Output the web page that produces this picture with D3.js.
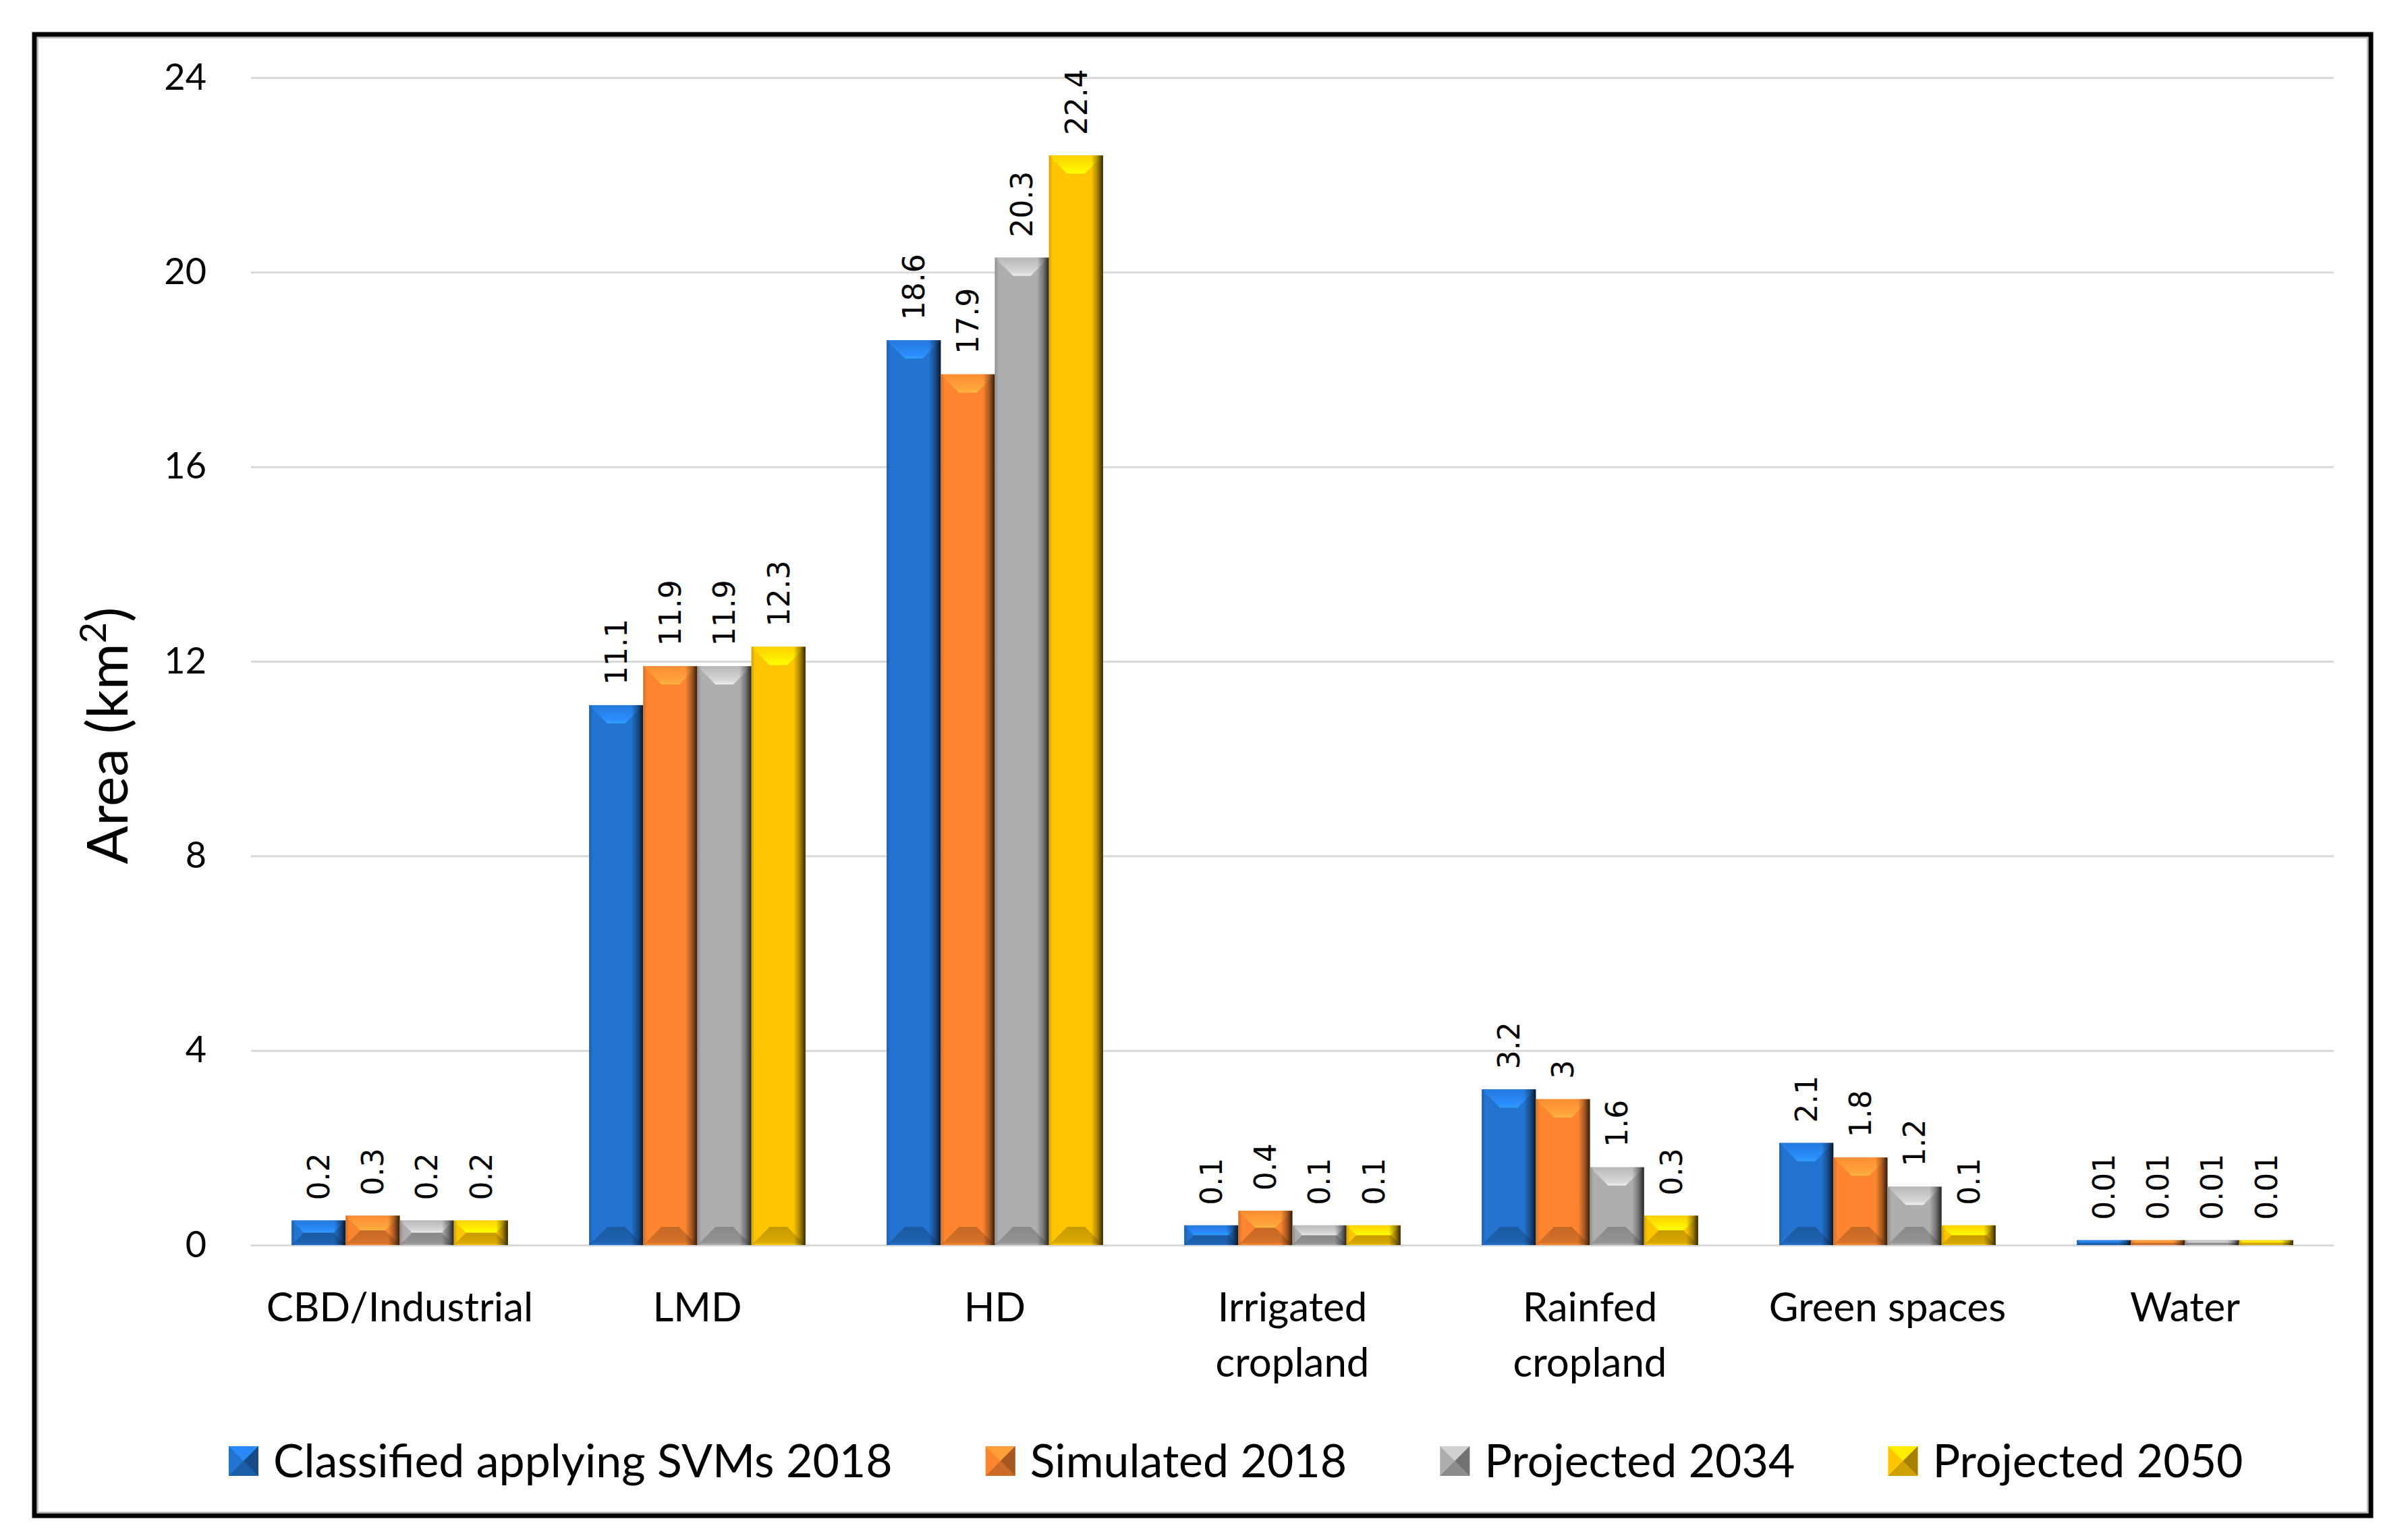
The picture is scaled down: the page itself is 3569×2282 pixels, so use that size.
<!DOCTYPE html>
<html>
<head>
<meta charset="utf-8">
<script src="https://cdn.jsdelivr.net/npm/d3@7"></script>
<style>
  body { margin: 0; background: #fff; }
</style>
</head>
<body>
<div id="chart"></div>
<script>
// Chart data
var categories = ["CBD/Industrial", "LMD", "HD", "Irrigated cropland", "Rainfed cropland", "Green spaces", "Water"];
var categoryLines = [["CBD/Industrial"], ["LMD"], ["HD"], ["Irrigated", "cropland"], ["Rainfed", "cropland"], ["Green spaces"], ["Water"]];
var seriesNames = ["Classified applying SVMs 2018", "Simulated 2018", "Projected 2034", "Projected 2050"];
var svm2018 = [0.2, 11.1, 18.6, 0.1, 3.2, 2.1, 0.01];
var simulated2018 = [0.3, 11.9, 17.9, 0.4, 3, 1.8, 0.01];
var projected2034 = [0.2, 11.9, 20.3, 0.1, 1.6, 1.2, 0.01];
var projected2050 = [0.2, 12.3, 22.4, 0.1, 0.3, 0.1, 0.01];
var seriesValues = [svm2018, simulated2018, projected2034, projected2050];
var yTicks = [0, 4, 8, 12, 16, 20, 24];

var seriesColors = ["#2373D0", "#FD8530", "#AEAEAE", "#FFC600"];

// SVG area
var svgWidth = 3569;
var svgHeight = 2282;

var margin = { top: 115, right: 110, bottom: 437, left: 372 };
var chartWidth = svgWidth - margin.left - margin.right;
var chartHeight = svgHeight - margin.top - margin.bottom;

var svg = d3.select("#chart")
  .append("svg")
  .attr("width", svgWidth)
  .attr("height", svgHeight);

svg.append("rect")
  .attr("width", svgWidth)
  .attr("height", svgHeight)
  .attr("fill", "#fff");

// outer frame
svg.append("rect")
  .attr("x", 51).attr("y", 51)
  .attr("width", 3463).attr("height", 2195)
  .attr("fill", "none")
  .attr("stroke", "#000")
  .attr("stroke-width", 7);
svg.append("rect")
  .attr("x", 56).attr("y", 56)
  .attr("width", 3453).attr("height", 2185)
  .attr("fill", "none")
  .attr("stroke", "#bbb")
  .attr("stroke-width", 2);

var defs = svg.append("defs");

// Gradients that fake Excel's bevel look
seriesColors.forEach(function(c, i) {
  var top = defs.append("linearGradient")
    .attr("id", "top" + i)
    .attr("x1", 0).attr("y1", 0).attr("x2", 0).attr("y2", 1);
  top.append("stop").attr("offset", "0%").attr("stop-color", d3.rgb(c).brighter(0.15));
  top.append("stop").attr("offset", "80%").attr("stop-color", d3.rgb(c).brighter(0.6));
  top.append("stop").attr("offset", "100%").attr("stop-color", d3.rgb(c).brighter(0.9));

  var bot = defs.append("linearGradient")
    .attr("id", "bot" + i)
    .attr("x1", 0).attr("y1", 0).attr("x2", 0).attr("y2", 1);
  bot.append("stop").attr("offset", "0%").attr("stop-color", d3.rgb(c).darker(0.7));
  bot.append("stop").attr("offset", "85%").attr("stop-color", d3.rgb(c).darker(0.45));
  bot.append("stop").attr("offset", "100%").attr("stop-color", d3.rgb(c).brighter(0.1));
});

var shade = defs.append("linearGradient")
  .attr("id", "shade")
  .attr("x1", 0).attr("y1", 0).attr("x2", 1).attr("y2", 0);
[[0, 0.18], [0.07, 0], [0.78, 0], [0.9, 0.35], [1, 0.8]].forEach(function(s) {
  shade.append("stop")
    .attr("offset", s[0] * 100 + "%")
    .attr("stop-color", "#000")
    .attr("stop-opacity", s[1]);
});

var chartGroup = svg.append("g")
  .attr("transform", `translate(${margin.left}, ${margin.top})`);

// Scales
var x0 = d3.scaleBand()
  .domain(categories)
  .range([0, chartWidth])
  .paddingInner(1.5 / 5.5)
  .paddingOuter(0.75 / 5.5);

var x1 = d3.scaleBand()
  .domain(seriesNames)
  .range([0, x0.bandwidth()]);

var yLinearScale = d3.scaleLinear()
  .domain([0, 24])
  .range([chartHeight, 0]);

// gridlines + tick labels
var leftAxis = d3.axisLeft(yLinearScale)
  .tickValues(yTicks)
  .tickSize(-chartWidth)
  .tickPadding(66);

var yAxis = chartGroup.append("g").call(leftAxis);
yAxis.select(".domain").remove();
yAxis.selectAll(".tick line")
  .attr("stroke", "#d9d9d9")
  .attr("stroke-width", 3);
yAxis.selectAll(".tick text")
  .attr("font-family", "Lato, sans-serif")
  .attr("font-size", 54)
  .attr("fill", "#000");

// Excel's bevel keeps very small bars visible
function bevelPad(h) {
  return h < 40 ? Math.min(22, h * 9) : 0;
}

var barData = [];
categories.forEach(function(cat, ci) {
  seriesNames.forEach(function(s, si) {
    barData.push({ cat: cat, series: s, si: si, value: seriesValues[si][ci] });
  });
});

var bars = chartGroup.selectAll(".bar")
  .data(barData)
  .enter()
  .append("g")
  .attr("class", "bar")
  .each(function(d) {
    var g = d3.select(this);
    var x = x0(d.cat) + x1(d.series);
    var w = x1.bandwidth();
    var h = chartHeight - yLinearScale(d.value);
    h = h + bevelPad(h);
    var top = chartHeight - h;
    d.top = top;
    var b = Math.min(27, h / 2);

    g.append("rect")
      .attr("x", x).attr("y", top)
      .attr("width", w).attr("height", h)
      .attr("fill", seriesColors[d.si]);

    g.append("path")
      .attr("d", `M${x},${top}L${x + w},${top}L${x + w - b},${top + b}L${x + b},${top + b}Z`)
      .attr("fill", `url(#top${d.si})`);

    g.append("path")
      .attr("d", `M${x},${chartHeight}L${x + w},${chartHeight}L${x + w - b},${chartHeight - b}L${x + b},${chartHeight - b}Z`)
      .attr("fill", `url(#bot${d.si})`);

    g.append("rect")
      .attr("x", x).attr("y", top)
      .attr("width", w).attr("height", h)
      .attr("fill", "url(#shade)");
  });

// rotated value labels
chartGroup.selectAll(".valueText")
  .data(barData)
  .enter()
  .append("text")
  .attr("class", "valueText")
  .attr("transform", d => `translate(${x0(d.cat) + x1(d.series) + x1.bandwidth() / 2}, ${d.top - 30}) rotate(-90)`)
  .attr("dy", "0.36em")
  .attr("font-family", "DejaVu Sans, sans-serif")
  .attr("font-size", 44)
  .attr("fill", "#000")
  .text(d => d.value);

// category labels
var catLabels = chartGroup.selectAll(".catText")
  .data(categories)
  .enter()
  .append("text")
  .attr("class", "catText")
  .attr("x", d => x0(d) + x0.bandwidth() / 2)
  .attr("y", chartHeight + 92)
  .attr("text-anchor", "middle")
  .attr("font-family", "Lato, sans-serif")
  .attr("font-size", 60)
  .attr("fill", "#000");

catLabels.each(function(d, i) {
  var t = d3.select(this);
  categoryLines[i].forEach(function(line, li) {
    t.append("tspan")
      .attr("x", x0(d) + x0.bandwidth() / 2)
      .attr("dy", li === 0 ? "0.35em" : 82)
      .text(line);
  });
});

// y-axis title
var yTitle = svg.append("text")
  .attr("transform", "translate(160, 1090) rotate(-90)")
  .attr("text-anchor", "middle")
  .attr("dy", "0.35em")
  .attr("font-family", "Lato, sans-serif")
  .attr("font-size", 84)
  .attr("fill", "#000");
yTitle.append("tspan").text("Area (km");
yTitle.append("tspan").attr("baseline-shift", "super").attr("font-size", 54).text("2");
yTitle.append("tspan").text(")");

// legend
var legend = svg.append("g")
  .attr("transform", "translate(0, 2165)");

var lx = 339;
seriesNames.forEach(function(name, i) {
  var c = seriesColors[i];
  var item = legend.append("g").attr("transform", `translate(${lx}, 0)`);
  var m = 44;
  item.append("rect")
    .attr("x", 0).attr("y", -m / 2)
    .attr("width", m).attr("height", m)
    .attr("fill", c);
  item.append("path")
    .attr("d", `M0,${-m / 2}L${m},${-m / 2}L${m / 2},0Z`)
    .attr("fill", d3.rgb(c).brighter(0.5));
  item.append("path")
    .attr("d", `M0,${m / 2}L${m},${m / 2}L${m / 2},0Z`)
    .attr("fill", d3.rgb(c).darker(0.6));
  item.append("path")
    .attr("d", `M${m},${-m / 2}L${m},${m / 2}L${m / 2},0Z`)
    .attr("fill", d3.rgb(c).darker(1.2));
  var txt = item.append("text")
    .attr("x", 66)
    .attr("dy", "0.35em")
    .attr("font-family", "Lato, sans-serif")
    .attr("font-size", 68)
    .attr("fill", "#000")
    .text(name);
  lx += 66 + txt.node().getComputedTextLength() + 138;
});
</script>
</body>
</html>
